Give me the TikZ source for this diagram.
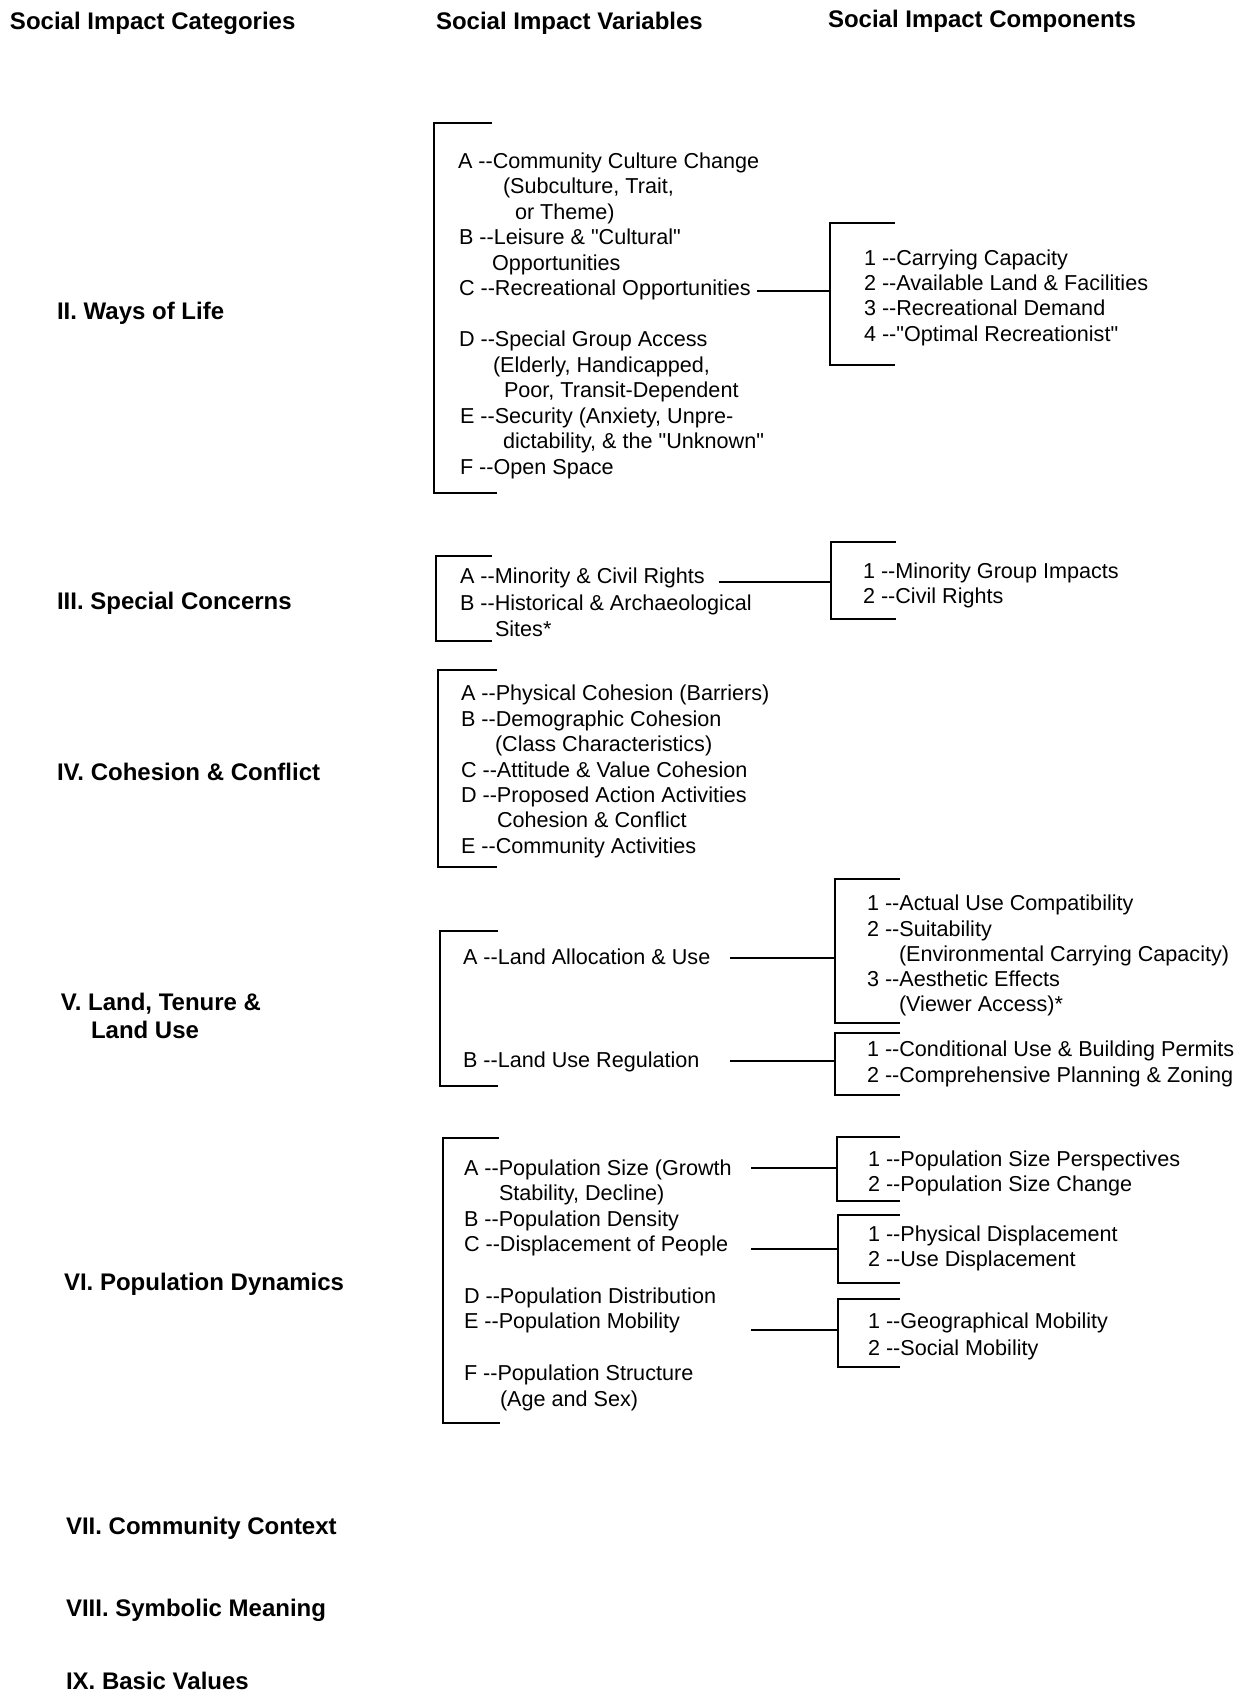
\documentclass[tikz,border=0pt]{standalone}
\usepackage{fontspec}
\setmainfont{Liberation Sans}[Ligatures=TeXOff]
\begin{document}
\begin{tikzpicture}[x=0.5pt,y=-0.5pt,line width=1pt,
  head/.style={anchor=base west,inner sep=0,font=\bfseries\fontsize{12}{14}\selectfont},
  item/.style={anchor=base west,inner sep=0,font=\fontsize{10.8}{13}\selectfont}]
\useasboundingbox (0,0) rectangle (1247,1693);
\node[head] (hcat) at (9,29) {Social Impact Categories};
\node[head] (hvar) at (435,29) {Social Impact Variables};
\node[head] (hcom) at (827,27) {Social Impact Components};
\node[head] (c2) at (56,319) {II. Ways of Life};
\node[head] (c3) at (56,609) {III. Special Concerns};
\node[head] (c4) at (56,780) {IV. Cohesion \& Conflict};
\node[head] (c5) at (60,1010) {V. Land, Tenure \&};
\node[head] (c5b) at (90,1038) {Land Use};
\node[head] (c6) at (63,1290) {VI. Population Dynamics};
\node[head] (c7) at (65,1534) {VII. Community Context};
\node[head] (c8) at (65,1616) {VIII. Symbolic Meaning};
\node[head] (c9) at (65,1689) {IX. Basic Values};
\draw (492,123) -- (434,123) -- (434,493) -- (497,493);
\node[item] (v2a) at (457,168) {A --Community Culture Change};
\node[item] (v2a1) at (502,193) {(Subculture, Trait,};
\node[item] (v2a2) at (514,219) {or Theme)};
\node[item] (v2b) at (458,244) {B --Leisure \& "Cultural"};
\node[item] (v2b1) at (491,270) {Opportunities};
\node[item] (v2c) at (458,295) {C --Recreational Opportunities};
\node[item] (v2d) at (458,346) {D --Special Group Access};
\node[item] (v2d1) at (492,372) {(Elderly, Handicapped,};
\node[item] (v2d2) at (503,397) {Poor, Transit-Dependent};
\node[item] (v2e) at (459,423) {E --Security (Anxiety, Unpre-};
\node[item] (v2e1) at (502,448) {dictability, \& the "Unknown"};
\node[item] (v2f) at (459,474) {F --Open Space};
\draw (895,223) -- (830,223) -- (830,365) -- (895,365);
\node[item] (k2a) at (863,265) {1 --Carrying Capacity};
\node[item] (k2b) at (863,290) {2 --Available Land \& Facilities};
\node[item] (k2c) at (863,315) {3 --Recreational Demand};
\node[item] (k2d) at (863,341) {4 --"Optimal Recreationist"};
\coordinate (s2) at (757,0);
\coordinate (b2) at (830,291);
\draw (b2 -| s2) -- (b2);
\draw (492,556) -- (436,556) -- (436,641) -- (492,641);
\node[item] (v3a) at (459,583) {A --Minority \& Civil Rights};
\node[item] (v3b) at (459,610) {B --Historical \& Archaeological};
\node[item] (v3b1) at (494,636) {Sites*};
\draw (896,542) -- (831,542) -- (831,619) -- (896,619);
\node[item] (k3a) at (862,578) {1 --Minority Group Impacts};
\node[item] (k3b) at (862,603) {2 --Civil Rights};
\coordinate (s3) at (719,0);
\coordinate (b3) at (831,582);
\draw (b3 -| s3) -- (b3);
\draw (497,670) -- (438,670) -- (438,867) -- (497,867);
\node[item] (v4a) at (460,700) {A --Physical Cohesion (Barriers)};
\node[item] (v4b) at (460,726) {B --Demographic Cohesion};
\node[item] (v4b1) at (494,751) {(Class Characteristics)};
\node[item] (v4c) at (460,777) {C --Attitude \& Value Cohesion};
\node[item] (v4d) at (460,802) {D --Proposed Action Activities};
\node[item] (v4d1) at (496,827) {Cohesion \& Conflict};
\node[item] (v4e) at (460,853) {E --Community Activities};
\draw (498,931) -- (440,931) -- (440,1086) -- (498,1086);
\node[item] (v5a) at (462,964) {A --Land Allocation \& Use};
\node[item] (v5b) at (462,1067) {B --Land Use Regulation};
\draw (900,879) -- (835,879) -- (835,1023) -- (900,1023);
\node[item] (k5a) at (866,910) {1 --Actual Use Compatibility};
\node[item] (k5b) at (866,936) {2 --Suitability};
\node[item] (k5b1) at (898,961) {(Environmental Carrying Capacity)};
\node[item] (k5c) at (866,986) {3 --Aesthetic Effects};
\node[item] (k5c1) at (898,1011) {(Viewer Access)*};
\draw (900,1033) -- (835,1033) -- (835,1095) -- (900,1095);
\node[item] (k5d) at (866,1056) {1 --Conditional Use \& Building Permits};
\node[item] (k5e) at (866,1082) {2 --Comprehensive Planning \& Zoning};
\coordinate (s5) at (730,0);
\coordinate (b5a) at (835,958);
\coordinate (b5b) at (835,1061);
\draw (b5a -| s5) -- (b5a);
\draw (b5b -| s5) -- (b5b);
\draw (499,1138) -- (443,1138) -- (443,1423) -- (500,1423);
\node[item] (v6a) at (463,1175) {A --Population Size (Growth};
\node[item] (v6a1) at (498,1200) {Stability, Decline)};
\node[item] (v6b) at (463,1226) {B --Population Density};
\node[item] (v6c) at (463,1251) {C --Displacement of People};
\node[item] (v6d) at (463,1303) {D --Population Distribution};
\node[item] (v6e) at (463,1328) {E --Population Mobility};
\node[item] (v6f) at (463,1380) {F --Population Structure};
\node[item] (v6f1) at (499,1406) {(Age and Sex)};
\draw (900,1137) -- (837,1137) -- (837,1201) -- (900,1201);
\node[item] (k6a) at (867,1166) {1 --Population Size Perspectives};
\node[item] (k6b) at (867,1191) {2 --Population Size Change};
\draw (900,1215) -- (838,1215) -- (838,1283) -- (900,1283);
\node[item] (k6c) at (867,1241) {1 --Physical Displacement};
\node[item] (k6d) at (867,1266) {2 --Use Displacement};
\draw (900,1299) -- (838,1299) -- (838,1367) -- (900,1367);
\node[item] (k6e) at (867,1328) {1 --Geographical Mobility};
\node[item] (k6f) at (867,1355) {2 --Social Mobility};
\coordinate (s6) at (751,0);
\coordinate (b6a) at (837,1168);
\coordinate (b6b) at (838,1249);
\coordinate (b6c) at (838,1330);
\draw (b6a -| s6) -- (b6a);
\draw (b6b -| s6) -- (b6b);
\draw (b6c -| s6) -- (b6c);
\end{tikzpicture}
\end{document}
